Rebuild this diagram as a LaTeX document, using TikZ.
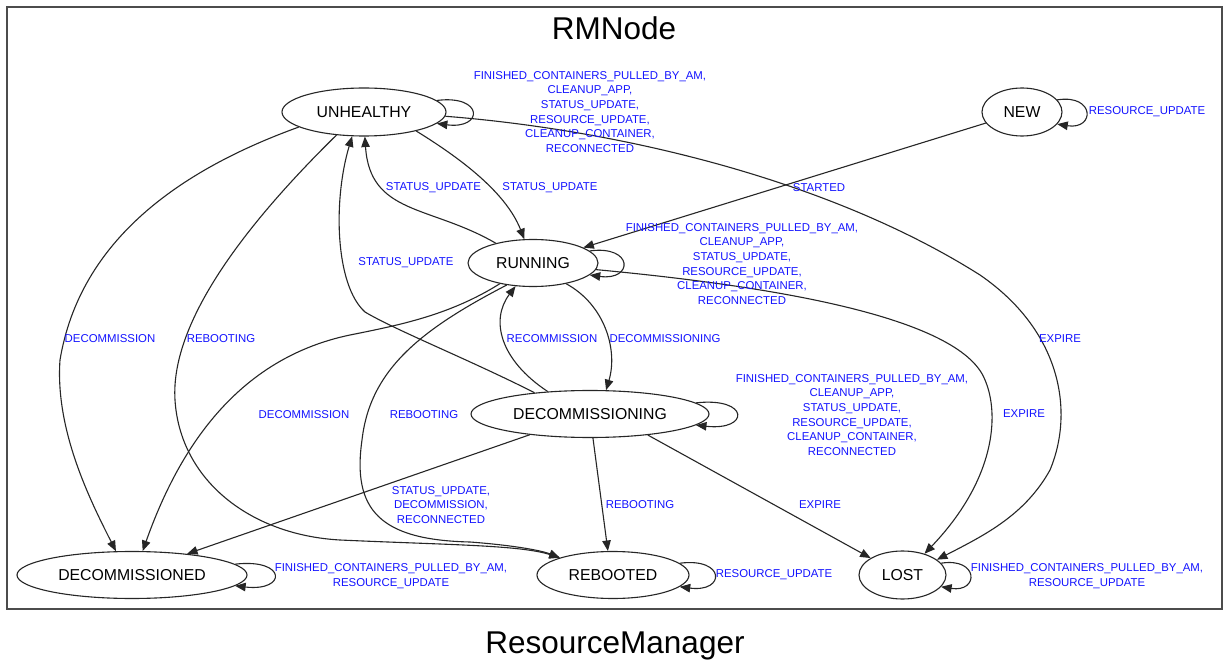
\documentclass[tikz,border=0pt]{standalone}
\usepackage{fontspec}
\setmainfont{Liberation Sans}
\usetikzlibrary{shapes.geometric,arrows.meta}
\definecolor{lbl}{RGB}{20,20,255}
\newcommand\selfloop[3]{\draw[e] (#1.#2) .. controls +(#3,-6) and +(#3,6) .. (#1.-#2);}
\begin{document}
\begin{tikzpicture}[x=1pt,y=-1pt,
  st/.style={draw=black!85, line width=1.1pt, ellipse, inner sep=0pt, font=\fontsize{15.8}{18}\selectfont},
  e/.style={draw=black!85, line width=1.1pt, -{Triangle[length=10.5pt,width=8.5pt]}},
  lb/.style={text=lbl, font=\fontsize{11.4}{14.7}\selectfont, align=center, inner sep=0pt},
  ttl/.style={font=\fontsize{31.5}{36}\selectfont, anchor=base, inner sep=0pt}]
\useasboundingbox (0,0) rectangle (1224,660);
\fill[white] (0,0) rectangle (1224,660);
\draw[black!70, line width=1.2pt] (7,7) rectangle (1222,609);
\node[ttl] (title) at (614,40) {RMNode};
\node[ttl] (caption) at (615,653) {ResourceManager};
% states
\node[st, minimum width=164pt, minimum height=48pt] (U) at (364,112) {UNHEALTHY};
\node[st, minimum width=80pt, minimum height=48pt] (NEW) at (1022,112) {NEW};
\node[st, minimum width=130pt, minimum height=47pt] (R) at (533,263) {RUNNING};
\node[st, minimum width=238pt, minimum height=47pt] (DC) at (590,414) {DECOMMISSIONING};
\node[st, minimum width=230pt, minimum height=47pt] (DD) at (132,575) {DECOMMISSIONED};
\node[st, minimum width=152pt, minimum height=47pt] (RB) at (613,575) {REBOOTED};
\node[st, minimum width=87pt, minimum height=48pt] (L) at (902.5,575) {LOST};
% self loops
\selfloop{U}{9.6}{47}
\selfloop{NEW}{19}{38}
\selfloop{R}{12}{44}
\selfloop{DC}{6.7}{54}
\selfloop{DD}{6.9}{52}
\selfloop{RB}{10.4}{46}
\selfloop{L}{17.7}{38}
% edges
\draw[e] (NEW.-163) -- (R.17);
\draw[e] (U.-20) .. controls (455,155) and (505,190) .. (R.110);
\draw[e] (R.152) .. controls (430,205) and (370,215) .. (U.-88);
\draw[e] (DC.159) .. controls (470,360) and (395,330) .. (365,312) .. controls (335,285) and (333,200) .. (U.-116);
\draw[e] (DC.152) .. controls (500,360) and (490,320) .. (R.-127);
\draw[e] (R.-32) .. controls (605,305) and (618,350) .. (DC.56);
\draw[e] (R.-148) .. controls (450,315) and (400,325) .. (350,335) .. controls (230,360) and (175,460) .. (DD.66);
\draw[e] (R.-140) .. controls (420,330) and (370,370) .. (362,440) .. controls (352,510) and (380,540) .. (470,542) .. controls (510,545) and (540,550) .. (RB.162);
\draw[e] (U.-140) .. controls (250,220) and (170,320) .. (175,400) .. controls (180,480) and (250,535) .. (340,540) .. controls (450,545) and (520,545) .. (RB.162);
\draw[e] (U.-167) .. controls (180,170) and (80,240) .. (60,360) .. controls (55,430) and (90,500) .. (DD.124);
\draw[e] (U.-3) .. controls (620,130) and (830,180) .. (980,275) .. controls (1060,330) and (1075,410) .. (1050,470) .. controls (1025,515) and (985,535) .. (L.24);
\draw[e] (R.-6) .. controls (760,285) and (960,315) .. (985,380) .. controls (1000,415) and (995,480) .. (L.44);
\draw[e] (DC.-161) -- (DD.21);
\draw[e] (DC.-83) -- (RB.102);
\draw[e] (DC.-20) -- (L.152);
% labels
\node[lb] (lU) at (590,112) {FINISHED\_CONTAINERS\_PULLED\_BY\_AM,\\CLEANUP\_APP,\\STATUS\_UPDATE,\\RESOURCE\_UPDATE,\\CLEANUP\_CONTAINER,\\RECONNECTED};
\node[lb] (lR) at (742,264) {FINISHED\_CONTAINERS\_PULLED\_BY\_AM,\\CLEANUP\_APP,\\STATUS\_UPDATE,\\RESOURCE\_UPDATE,\\CLEANUP\_CONTAINER,\\RECONNECTED};
\node[lb] (lDC) at (852,415) {FINISHED\_CONTAINERS\_PULLED\_BY\_AM,\\CLEANUP\_APP,\\STATUS\_UPDATE,\\RESOURCE\_UPDATE,\\CLEANUP\_CONTAINER,\\RECONNECTED};
\node[lb] (lNEW) at (1147,112) {RESOURCE\_UPDATE};
\node[lb] (lStart) at (819,188) {STARTED};
\node[lb] (lSU1) at (433.5,188) {STATUS\_UPDATE};
\node[lb] (lSU2) at (550,188) {STATUS\_UPDATE};
\node[lb] (lSU3) at (406,263) {STATUS\_UPDATE};
\node[lb] (lDm1) at (110,339) {DECOMMISSION};
\node[lb] (lRb1) at (221,339) {REBOOTING};
\node[lb] (lRec) at (552,339) {RECOMMISSION};
\node[lb] (lDcg) at (665,339) {DECOMMISSIONING};
\node[lb] (lEx1) at (1060,339) {EXPIRE};
\node[lb] (lDm2) at (304,415) {DECOMMISSION};
\node[lb] (lRb2) at (424,415) {REBOOTING};
\node[lb] (lEx2) at (1024,414) {EXPIRE};
\node[lb] (lSDR) at (441,505) {STATUS\_UPDATE,\\DECOMMISSION,\\RECONNECTED};
\node[lb] (lRb3) at (640,505) {REBOOTING};
\node[lb] (lEx3) at (820,505) {EXPIRE};
\node[lb] (lDD) at (391,576) {FINISHED\_CONTAINERS\_PULLED\_BY\_AM,\\RESOURCE\_UPDATE};
\node[lb] (lRB) at (774,575) {RESOURCE\_UPDATE};
\node[lb] (lL) at (1087,576) {FINISHED\_CONTAINERS\_PULLED\_BY\_AM,\\RESOURCE\_UPDATE};
\end{tikzpicture}
\end{document}
